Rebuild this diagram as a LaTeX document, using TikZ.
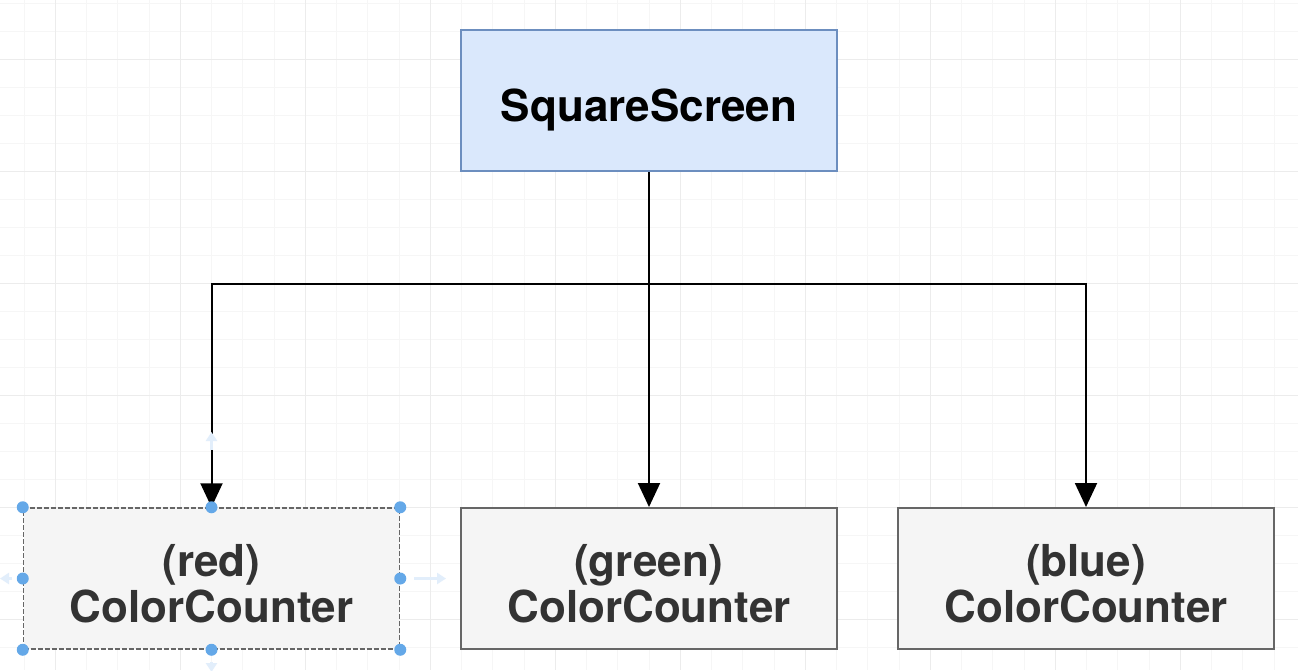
\documentclass[tikz,border=0pt]{standalone}
\usepackage{fontspec}
\setmainfont{TeX Gyre Heros}
\usetikzlibrary{arrows.meta}

\definecolor{gridminor}{RGB}{246,246,246}
\definecolor{gridmajor}{RGB}{236,236,236}
\definecolor{screenfill}{RGB}{218,232,252}
\definecolor{screendraw}{RGB}{108,142,191}
\definecolor{counterfill}{RGB}{245,245,245}
\definecolor{counterdraw}{RGB}{102,102,102}
\definecolor{countertext}{RGB}{51,51,51}
\definecolor{handle}{RGB}{100,168,232}
\definecolor{hint}{RGB}{226,238,251}

\tikzset{every picture/.style={line width=2pt},
  box/.style={rectangle, minimum width=376pt, minimum height=141pt, inner sep=0pt, align=center, font=\fontsize{44}{46}\selectfont\bfseries},
  screenbox/.style={box, fill=screenfill, draw=screendraw, text=black, text height=50pt, text depth=9pt},
  counterbox/.style={box, fill=counterfill, draw=counterdraw, text=countertext, text height=89pt},
  link/.style={black, -{Triangle[length=24pt,width=22pt]}},
  hintarrow/.style={hint, line width=3pt, -{Triangle[length=9pt,width=11pt]}}
}

\begin{document}
\begin{tikzpicture}[x=1pt,y=1pt,yscale=-1]
\useasboundingbox (0,0) rectangle (1298,670);
\fill[white] (0,0) rectangle (1298,670);

%Grid
\foreach \k in {0,...,41} \draw[gridminor, line width=1pt] ({24+31.25*\k},0) -- ++(0,670);
\foreach \k in {0,...,23} \draw[gridminor, line width=1pt] (0,{3+28*\k}) -- ++(1298,0);
\foreach \k in {1,5,...,41} \draw[gridmajor, line width=1pt] ({24+31.25*\k},0) -- ++(0,670);
\foreach \k in {2,6,...,22} \draw[gridmajor, line width=1pt] (0,{3+28*\k}) -- ++(1298,0);

%Boxes
\node[screenbox] (screen) at (649,100.5) {SquareScreen};
\node[counterbox, dash pattern=on 5pt off 2pt, line width=1.5pt] (red) at (211.5,578.5) {(red)\\ColorCounter};
\node[counterbox] (green) at (649,578.5) {(green)\\ColorCounter};
\node[counterbox] (blue) at (1086,578.5) {(blue)\\ColorCounter};

%Connectors
\coordinate (bus) at (649,284);
\draw[link] (screen.south) -- (green.north);
\draw[link] (bus) -| (red.north);
\draw[link] (bus) -| (blue.north);

%Selection handles
\foreach \a in {north west,north,north east,west,east,south west,south,south east}
  \fill[handle] (red.\a) circle (6pt);

%Hover hints
\draw[hintarrow] (211.5,450) -- (211.5,432);
\draw[hintarrow] (414,578.5) -- (446,578.5);
\draw[hintarrow] (12,578.5) -- (0,578.5);
\draw[hintarrow] (211.5,662) -- (211.5,672);

\end{tikzpicture}
\end{document}
